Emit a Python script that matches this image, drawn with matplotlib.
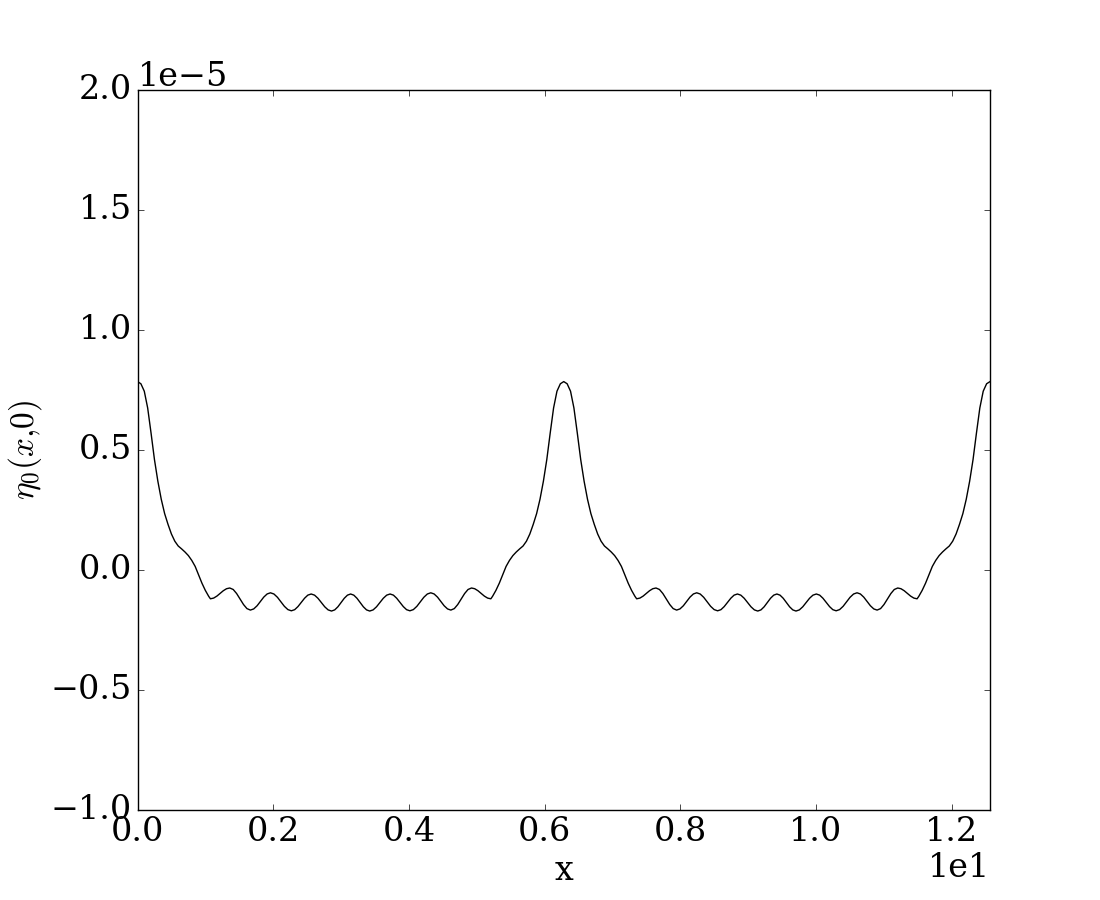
import numpy as np
import matplotlib
matplotlib.use("Agg")
import matplotlib.pyplot as plt

plt.style.use("classic")
plt.rcParams["font.family"] = ["DejaVu Serif"]
plt.rcParams["mathtext.fontset"] = "cm"

# Readings over one half period, x in [0, pi]; y in units of 1e-5
half_x = [0.0, 0.05, 0.10, 0.15, 0.20, 0.25, 0.30, 0.35, 0.40, 0.45, 0.50,
          0.55, 0.60, 0.65, 0.70, 0.75, 0.80, 0.85, 0.90, 0.95, 1.00, 1.05,
          1.075, 1.1225, 1.17, 1.2175, 1.265, 1.3125,
          1.36, 1.411, 1.461, 1.512, 1.563, 1.613,
          1.664, 1.713, 1.763, 1.812, 1.861, 1.911,
          1.96, 2.011, 2.063, 2.114, 2.165, 2.217,
          2.268, 2.317, 2.365, 2.414, 2.463, 2.511,
          2.56, 2.61, 2.66, 2.71, 2.76, 2.81,
          2.86, 2.907, 2.954, 3.001, 3.048, 3.095, 3.1416]
half_y = [0.785, 0.776, 0.745, 0.675, 0.57, 0.46, 0.37, 0.295, 0.235, 0.19, 0.15,
          0.12, 0.10, 0.088, 0.075, 0.06, 0.04, 0.015, -0.02, -0.055, -0.085, -0.11,
          -0.12, -0.117, -0.1088, -0.0975, -0.0863, -0.078,
          -0.075, -0.0812, -0.098, -0.121, -0.144, -0.1608,
          -0.167, -0.1622, -0.149, -0.131, -0.113, -0.0998,
          -0.095, -0.100, -0.1138, -0.1325, -0.1513, -0.165,
          -0.170, -0.1653, -0.1525, -0.135, -0.1175, -0.1047,
          -0.100, -0.1048, -0.1178, -0.1355, -0.1533, -0.1662,
          -0.171, -0.1662, -0.1533, -0.1355, -0.1178, -0.1048, -0.100]

period = 2 * np.pi
hx = np.array(half_x)
hy = np.array(half_y)
# one period: read half plus its mirror image (the curve is symmetric about pi)
px = np.concatenate([hx, period - hx[::-1][1:]])
py = np.concatenate([hy, hy[::-1][1:]])
# two periods on [0, 4 pi]
x = np.concatenate([px, px[1:] + period])
y = np.concatenate([py, py[1:]]) * 1e-5

fig = plt.figure(figsize=(11, 9), dpi=100)
ax = fig.add_subplot(111)
fig.subplots_adjust(left=0.125, right=0.9, bottom=0.1, top=0.9)
ax.plot(x, y, color="k", linewidth=1.0)
ax.set_xlim(0, 4 * np.pi)
ax.set_ylim(-1e-5, 2e-5)
ax.ticklabel_format(style="sci", scilimits=(0, 0), axis="both")
ax.tick_params(labelsize=24)
ax.xaxis.get_offset_text().set_fontsize(24)
ax.yaxis.get_offset_text().set_fontsize(24)
ax.set_xlabel("x", fontsize=24)
ax.set_ylabel(r"$\eta_0(x{,}0)$", fontsize=24)
fig.savefig("out.png", dpi=100)
